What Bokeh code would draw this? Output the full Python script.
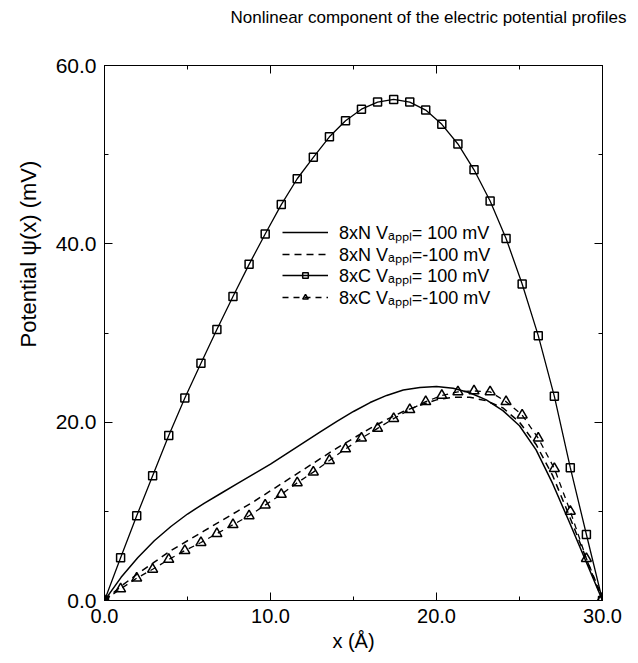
from bokeh.plotting import figure
from bokeh.models import (FixedTicker, PrintfTickFormatter, LinearAxis, Range1d,
                          Legend, LegendItem, Title, CustomJSTickFormatter)
from bokeh.embed import file_html
from bokeh.resources import INLINE

# ---- data ----
title_text = "Nonlinear component of the electric potential profiles"
x_label = "x (\u00c5)"
y_label = "Potential \u03c8(x) (mV)"

x_ticks = [0, 10, 20, 30]
x_minor = [5, 15, 25]
y_ticks = [0, 20, 40, 60]
y_minor = [10, 30, 50]

# 8xN curves (no symbols), 1 A grid
x_n = [0, 1, 2, 3, 4, 5, 6, 7, 8, 9, 10, 11, 12, 13, 14, 15, 16, 17, 18, 19, 20,
       21, 22, 23, 24, 25, 26, 27, 28, 29, 30]
n_pos = [0.0, 2.6, 4.8, 6.7, 8.3, 9.7, 10.9, 12.0, 13.1, 14.2, 15.3, 16.5, 17.7,
         18.9, 20.1, 21.2, 22.2, 23.0, 23.6, 23.9, 24.0, 23.8, 23.3, 22.5, 21.3,
         19.6, 16.9, 13.1, 8.8, 4.4, 0.0]
n_neg = [0.0, 1.6, 3.0, 4.3, 5.6, 6.7, 7.8, 8.9, 10.0, 11.1, 12.3, 13.5, 14.7,
         15.9, 17.1, 18.2, 19.3, 20.3, 21.2, 21.9, 22.5, 22.8, 22.8, 22.4, 21.6,
         20.0, 17.5, 14.0, 9.5, 4.8, 0.0]

# 8xC curves (with symbols)
x_c = [0.00, 0.97, 1.94, 2.90, 3.87, 4.84, 5.81, 6.77, 7.74, 8.71, 9.68, 10.65,
       11.61, 12.58, 13.55, 14.52, 15.48, 16.45, 17.42, 18.39, 19.35, 20.32,
       21.29, 22.26, 23.23, 24.19, 25.16, 26.13, 27.10, 28.06, 29.03, 30.00]
c_pos = [0.0, 4.8, 9.5, 14.0, 18.5, 22.7, 26.6, 30.4, 34.1, 37.7, 41.1, 44.4,
         47.3, 49.7, 52.0, 53.8, 55.1, 55.9, 56.2, 55.9, 55.0, 53.4, 51.2, 48.3,
         44.8, 40.6, 35.5, 29.7, 22.9, 14.9, 7.4, 0.0]
c_neg = [0.0, 1.3, 2.5, 3.5, 4.6, 5.6, 6.5, 7.5, 8.5, 9.5, 10.7, 11.9, 13.2,
         14.4, 15.7, 17.0, 18.2, 19.3, 20.4, 21.4, 22.3, 23.0, 23.4, 23.5, 23.4,
         22.3, 20.8, 18.2, 14.8, 10.0, 4.7, 0.3]

labels = ["8xN V\u2090\u209a\u209a\u2097= 100 mV",
          "8xN V\u2090\u209a\u209a\u2097=-100 mV",
          "8xC V\u2090\u209a\u209a\u2097= 100 mV",
          "8xC V\u2090\u209a\u209a\u2097=-100 mV"]

FONT = "Liberation Sans"

p = figure(width=636, height=658, x_range=Range1d(0, 30), y_range=Range1d(0, 60),
           output_backend="svg", toolbar_location=None, title=None,
           min_border_left=104, min_border_right=34, min_border_top=64,
           min_border_bottom=58)
p.xgrid.visible = False
p.ygrid.visible = False
p.outline_line_color = "black"
p.outline_line_width = 1
p.background_fill_color = "white"
p.border_fill_color = "white"

def style_axis(ax, ticks, minor, show_labels, size):
    ax.ticker = FixedTicker(ticks=ticks, minor_ticks=minor)
    ax.major_tick_in = 8
    ax.major_tick_out = 0
    ax.minor_tick_in = 4
    ax.minor_tick_out = 0
    ax.axis_line_color = "black"
    ax.major_tick_line_color = "black"
    ax.minor_tick_line_color = "black"
    ax.major_label_text_font = FONT
    ax.major_label_text_font_size = size
    ax.major_label_text_color = "black"
    ax.major_label_standoff = 8
    if show_labels:
        ax.formatter = PrintfTickFormatter(format="%.1f")
    else:
        ax.formatter = CustomJSTickFormatter(code="return ''")
        ax.major_label_standoff = 0

style_axis(p.xaxis[0], x_ticks, x_minor, True, "20px")
style_axis(p.yaxis[0], y_ticks, y_minor, True, "21px")
p.xaxis[0].axis_label = x_label
p.xaxis[0].axis_label_text_font = FONT
p.xaxis[0].axis_label_text_font_size = "20px"
p.xaxis[0].axis_label_text_font_style = "normal"
p.xaxis[0].axis_label_text_color = "black"
p.xaxis[0].axis_label_standoff = 4

top = LinearAxis()
right = LinearAxis()
style_axis(top, x_ticks, x_minor, False, "1px")
style_axis(right, y_ticks, y_minor, False, "1px")
p.add_layout(top, "above")
p.add_layout(right, "right")

# spacer between top axis and title, then the title itself
p.add_layout(Title(text="\u00a0", text_font_size="20px"), "above")
p.add_layout(Title(text=title_text, align="left", offset=126,
                   text_font=FONT, text_font_size="17px", text_font_style="normal",
                   text_color="black"), "above")

p.add_layout(Title(text="\u00a0", text_font_size="4px", standoff=0), "left")
p.add_layout(Title(text=y_label, align="left", offset=253,
                   text_font=FONT, text_font_size="22px", text_font_style="normal",
                   text_color="black"), "left")

r_npos = p.line(x_n, n_pos, line_color="black", line_width=1.5)
r_nneg = p.line(x_n, n_neg, line_color="black", line_width=1.5, line_dash="7 5")
r_cpos_l = p.line(x_c, c_pos, line_color="black", line_width=1.3)
r_cpos_m = p.scatter(x_c, c_pos, marker="square", size=8, line_color="black",
                     line_width=1.5, fill_alpha=0)
r_cneg_l = p.line(x_c, c_neg, line_color="black", line_width=1.3, line_dash="6 5")
r_cneg_m = p.scatter(x_c, c_neg, marker="triangle", size=10, line_color="black",
                     line_width=1.5, fill_alpha=0)

rows = [[r_npos], [r_nneg], [r_cpos_l, r_cpos_m], [r_cneg_l, r_cneg_m]]
row_y = [356.5, 334.5, 313.5, 291.5]
for lab, rends, yy in zip(labels, rows, row_y):
    lg = Legend(items=[LegendItem(label=lab, renderers=rends)], location=(178, yy))
    lg.label_text_font = FONT
    lg.label_text_font_size = "18px"
    lg.label_text_color = "black"
    lg.glyph_width = 46
    lg.glyph_height = 14
    lg.label_standoff = 11
    lg.padding = 0
    lg.margin = 0
    lg.border_line_color = None
    lg.background_fill_alpha = 0
    p.add_layout(lg)

open("out.html", "w").write(file_html(p, INLINE))
